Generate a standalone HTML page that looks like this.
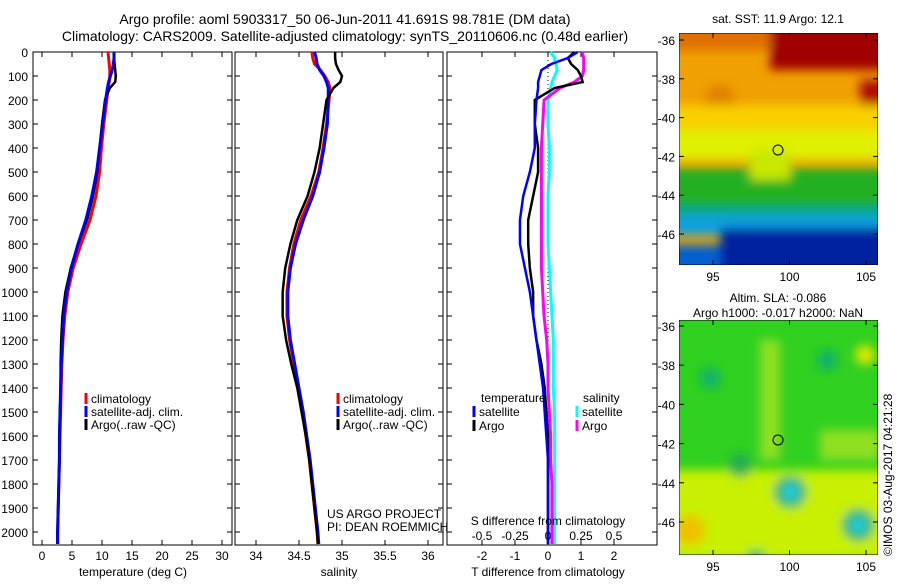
<!DOCTYPE html>
<html><head><meta charset="utf-8"><style>
body{margin:0;background:#fff;width:900px;height:580px;overflow:hidden}
svg{font-family:"Liberation Sans",sans-serif}
</style></head><body>
<svg id="fig" width="900" height="580">
<defs>
<filter id="bl" x="-20%" y="-20%" width="140%" height="140%"><feGaussianBlur stdDeviation="5"/></filter>
<clipPath id="cm1"><rect x="679" y="33" width="199" height="232"/></clipPath>
<clipPath id="cm2"><rect x="679" y="320" width="199" height="235"/></clipPath>
</defs>
<text x="345" y="24" font-size="14" text-anchor="middle">Argo profile: aoml 5903317_50 06-Jun-2011 41.691S 98.781E (DM data)</text>
<text x="345" y="41" font-size="14" text-anchor="middle">Climatology: CARS2009. Satellite-adjusted climatology: synTS_20110606.nc (0.48d earlier)</text>
<g id="plots"></g>
<g id="maps">
 <g clip-path="url(#cm1)">
  <rect x="679" y="33" width="199" height="232" fill="#f0a000"/>
  <g filter="url(#bl)">
   <rect x="660" y="10" width="240" height="40" fill="#e07000"/>
   <rect x="770" y="10" width="130" height="60" fill="#a00000"/>
   <rect x="860" y="80" width="30" height="30" fill="#b01000"/>
   <circle cx="720" cy="100" r="15" fill="#e08000"/>
   <rect x="660" y="105" width="240" height="40" fill="#f8d000"/>
   <rect x="660" y="130" width="240" height="30" fill="#e0f000"/>
   <rect x="660" y="168" width="240" height="38" fill="#20b020"/>
   <rect x="750" y="150" width="40" height="30" fill="#c8e800"/>
   <rect x="660" y="205" width="240" height="20" fill="#00a880"/>
   <rect x="660" y="215" width="240" height="20" fill="#10a0e0"/>
   <rect x="720" y="228" width="180" height="60" fill="#0020a0"/>
   <rect x="660" y="245" width="60" height="30" fill="#0060d0"/>
  </g>
  <circle cx="778" cy="150" r="5" fill="none" stroke="#000"/>
  <rect x="679" y="33" width="199" height="232" fill="none" stroke="#000"/>
 </g>
 <g clip-path="url(#cm2)">
  <rect x="679" y="320" width="199" height="235" fill="#30d020"/>
  <g filter="url(#bl)">
   <rect x="660" y="470" width="240" height="90" fill="#c8f000"/>
   <rect x="760" y="340" width="20" height="120" fill="#90e020"/>
   <rect x="820" y="430" width="60" height="30" fill="#90e020"/>
   <circle cx="690" cy="530" r="15" fill="#f0c000"/>
   <circle cx="790" cy="492" r="16" fill="#10b070"/>
   <circle cx="790" cy="492" r="8" fill="#30d0e0"/>
   <circle cx="858" cy="525" r="16" fill="#10b070"/>
   <circle cx="858" cy="525" r="8" fill="#30d0e0"/>
   <circle cx="710" cy="378" r="10" fill="#10b070"/>
   <circle cx="827" cy="360" r="10" fill="#10b070"/>
   <circle cx="740" cy="465" r="12" fill="#20b050"/>
   <circle cx="756" cy="560" r="10" fill="#10b070"/>
   <circle cx="865" cy="355" r="10" fill="#e0e800"/>
  </g>
  <circle cx="778" cy="440" r="5" fill="none" stroke="#000"/>
  <rect x="679" y="320" width="199" height="235" fill="none" stroke="#000"/>
 </g>
</g>
<text x="778" y="23" font-size="12" text-anchor="middle">sat. SST: 11.9 Argo: 12.1</text>
<text x="778" y="302" font-size="12" text-anchor="middle">Altim. SLA: -0.086</text>
<text x="778" y="317" font-size="12" text-anchor="middle">Argo h1000: -0.017 h2000: NaN</text>
<text transform="translate(892,556) rotate(-90)" font-size="12">©IMOS 03-Aug-2017 04:21:28</text>
<text x="327" y="518" font-size="12">US ARGO PROJECT</text>
<text x="327" y="531" font-size="12">PI: DEAN ROEMMICH</text>
</svg>
<script>
const depths=[0,25,50,75,100,125,150,200,300,400,500,600,700,800,900,1000,1100,1200,1300,1400,1500,1600,1700,1800,1900,2000,2050];
const tempClim=[11.0,11.1,11.2,11.3,11.3,11.2,11.0,10.8,10.3,9.9,9.6,9.0,8.0,6.5,5.2,4.3,3.8,3.5,3.3,3.2,3.1,3.0,2.9,2.8,2.7,2.6,2.6];
const tempSat=[12.0,12.0,11.9,11.7,11.4,11.1,10.9,10.6,10.1,9.6,9.1,8.3,7.3,6.0,4.9,4.1,3.6,3.4,3.2,3.1,3.0,2.9,2.9,2.8,2.7,2.6,2.6];
const tempArgo=[12.0,12.0,12.1,12.2,12.3,12.2,11.3,10.5,10.0,9.6,9.2,8.5,7.5,6.0,4.8,3.9,3.4,3.2,3.1,3.1,3.0,2.9,2.9,2.8,2.7,2.6,2.6];
const salClim=[34.65,34.66,34.68,34.75,34.8,34.84,34.86,34.85,34.82,34.78,34.73,34.64,34.52,34.44,34.39,34.36,34.36,34.39,34.44,34.49,34.54,34.58,34.62,34.65,34.68,34.71,34.72];
const salSat=[34.68,34.7,34.71,34.74,34.79,34.82,34.84,34.84,34.83,34.79,34.74,34.66,34.55,34.46,34.4,34.37,34.37,34.4,34.45,34.5,34.55,34.59,34.63,34.66,34.69,34.72,34.73];
const salArgo=[34.92,34.92,34.93,34.96,35.0,34.98,34.9,34.82,34.78,34.74,34.68,34.6,34.48,34.4,34.34,34.31,34.31,34.35,34.41,34.48,34.53,34.58,34.62,34.65,34.68,34.71,34.72];
const dTsat=[0.9,0.6,0.1,-0.2,-0.25,-0.3,-0.3,-0.35,-0.4,-0.4,-0.55,-0.75,-0.85,-0.85,-0.7,-0.55,-0.45,-0.35,-0.25,-0.15,-0.1,-0.05,0,0,0,0,0];
const dTargo=[0.8,0.6,0.7,0.9,1.0,1.05,0.2,-0.4,-0.4,-0.3,-0.3,-0.45,-0.6,-0.6,-0.55,-0.45,-0.45,-0.35,-0.2,-0.1,-0.05,0,0,0,0,0,0];
const dSsat=[0.02,0.05,0.06,0.07,0.05,0.03,0.02,0,0,0.01,0.01,0,0,0,0.01,0.02,0.03,0.04,0.04,0.04,0.05,0.05,0.05,0.05,0.05,0.05,0.05];
const dSargo=[0.26,0.27,0.27,0.27,0.26,0.2,0.09,-0.03,-0.04,-0.05,-0.05,-0.05,-0.05,-0.05,-0.05,-0.04,-0.03,-0.01,0,0,0.01,0.02,0.02,0.03,0.03,0.03,0.03];
const depthTicks=[0,100,200,300,400,500,600,700,800,900,1000,1100,1200,1300,1400,1500,1600,1700,1800,1900,2000];
const tempTicks=[0,5,10,15,20,25,30];
const salTicks=[34,34.5,35,35.5,36];
const dTTicks=[-2,-1,0,1,2];
const dSTicks=[-0.5,-0.25,0,0.25,0.5];
const latTicks=[-36,-38,-40,-42,-44,-46];
const lonTicks=[95,100,105];

const NS='http://www.w3.org/2000/svg';
const g=document.getElementById('plots');
function mk(t,a,p){const e=document.createElementNS(NS,t);for(const k in a)e.setAttribute(k,a[k]);(p||g).appendChild(e);return e;}
const TOP=52,BOT=545;
const yD=d=>TOP+d*0.24;
const xT=v=>42+v*6;
const xS=v=>256+(v-34)*86;
const xDT=v=>548+v*33;
const xDS=v=>548+v*132;
function frame(x0,x1,name){const r=mk('rect',{x:x0,y:TOP,width:x1-x0,height:BOT-TOP,fill:'none',stroke:'#000'});


depthTicks.forEach(d=>{mk('line',{x1:x0,x2:x0+5,y1:yD(d),y2:yD(d),stroke:'#000'});mk('line',{x1:x1,x2:x1-5,y1:yD(d),y2:yD(d),stroke:'#000'});});}
function xticks(vals,f,x0,x1,top,lblY){vals.forEach(v=>{const x=f(v);mk('line',{x1:x,x2:x,y1:BOT,y2:BOT-5,stroke:'#000'});mk('line',{x1:x,x2:x,y1:TOP,y2:TOP+5,stroke:'#000'});
const t=mk('text',{x:x,y:lblY,'font-size':12,'text-anchor':'middle'});t.textContent=String(v);

});}
function line(xs,f,col,name,w){const p=mk('polyline',{points:depths.map((d,i)=>f(xs[i])+','+yD(d)).join(' '),fill:'none',stroke:col,'stroke-width':w||3});

}
function txt(x,y,s,name,anchor){const t=mk('text',{x:x,y:y,'font-size':12,'text-anchor':anchor||'start'});t.textContent=s;

return t;}
frame(33,232,'temperature-axes');
depthTicks.forEach(d=>{const t=txt(28,yD(d)+5,String(d),'y-tick-label','end');});
xticks(tempTicks,xT,33,232,TOP,560);
line(tempClim,xT,'#ff0000','temp-climatology-line');
line(tempSat,xT,'#0000ff','temp-satellite-line');
line(tempArgo,xT,'#000000','temp-argo-line',2.5);
line(tempSat,xT,'#0000ff','temp-satellite-line-over',2.5);
txt(133,576,'temperature (deg C)','x-axis-title-temperature','middle');
frame(235,443,'salinity-axes');
xticks(salTicks,xS,235,443,TOP,560);
line(salClim,xS,'#ff0000','sal-climatology-line');
line(salSat,xS,'#0000ff','sal-satellite-line');
line(salArgo,xS,'#000000','sal-argo-line',2.5);
txt(339,576,'salinity','x-axis-title-salinity','middle');
frame(447,657,'difference-axes');
xticks(dTTicks,xDT,447,657,TOP,560);
dSTicks.forEach(v=>{const t=txt(xDS(v),540,String(v),'s-diff-tick-label','middle');});
mk('line',{x1:548,x2:548,y1:TOP,y2:BOT,stroke:'#000','stroke-dasharray':'1,3'});
line(dSsat,xDS,'#00ffff','s-diff-satellite-line');
line(dSargo,xDS,'#ff00ff','s-diff-argo-line');
line(dTargo,xDT,'#000000','t-diff-argo-line',2.5);
line(dTsat,xDT,'#0000ff','t-diff-satellite-line',2.5);
txt(548,525,'S difference from climatology','s-diff-axis-title','middle');
txt(548,576,'T difference from climatology','t-diff-axis-title','middle');
function leg(x,y,col,s,name){mk('line',{x1:x,x2:x,y1:y-10,y2:y+1,stroke:col,'stroke-width':3});txt(x+5,y,s,name);}
leg(86,403,'#ff0000','climatology','legend-climatology');
leg(86,416,'#0000ff','satellite-adj. clim.','legend-satellite');
leg(86,429,'#000000','Argo(..raw -QC)','legend-argo');
leg(338,403,'#ff0000','climatology','legend-climatology-2');
leg(338,416,'#0000ff','satellite-adj. clim.','legend-satellite-2');
leg(338,429,'#000000','Argo(..raw -QC)','legend-argo-2');
txt(481,402,'temperature','legend-temperature-header');
txt(583,402,'salinity','legend-salinity-header');
leg(474,416,'#0000ff','satellite','legend-t-satellite');
leg(474,430,'#000000','Argo','legend-t-argo');
leg(577,416,'#00ffff','satellite','legend-s-satellite');
leg(577,430,'#ff00ff','Argo','legend-s-argo');
const mg=document.getElementById('maps');
function mapAxes(y0,y1,lat0y,latStep){latTicks.forEach(l=>{const y=lat0y+(-36-l)*latStep;
mk('line',{x1:679,x2:684,y1:y,y2:y,stroke:'#000'},mg);mk('line',{x1:878,x2:873,y1:y,y2:y,stroke:'#000'},mg);
const t=mk('text',{x:675,y:y+5,'font-size':12,'text-anchor':'end'},mg);t.textContent=String(l);

});
lonTicks.forEach(l=>{const x=713+(l-95)*15.3;mk('line',{x1:x,x2:x,y1:y1,y2:y1-5,stroke:'#000'},mg);mk('line',{x1:x,x2:x,y1:y0,y2:y0+5,stroke:'#000'},mg);
const t=mk('text',{x:x,y:y1+16,'font-size':12,'text-anchor':'middle'},mg);t.textContent=String(l);

});}
mapAxes(33,265,40,19.4);
mapAxes(320,555,326,19.6);
</script>
</body></html>
